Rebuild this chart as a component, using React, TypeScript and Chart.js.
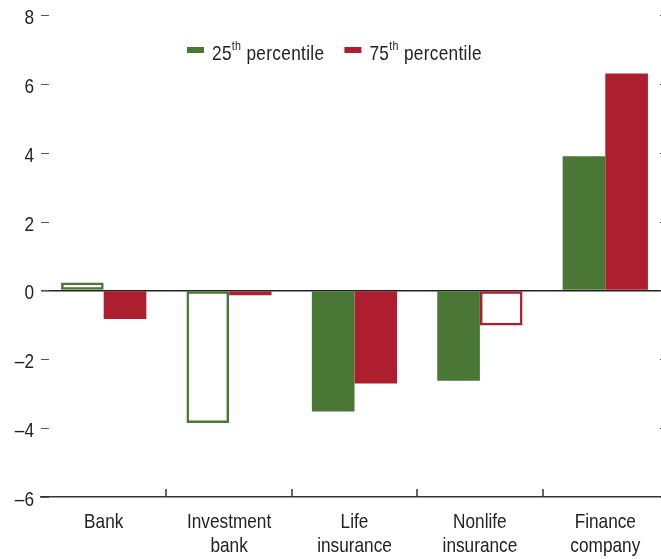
import React, { useEffect, useRef } from "react";
import { Chart, registerables } from "chart.js";
Chart.register(...registerables);

const categories = [["Bank"], ["Investment", "bank"], ["Life", "insurance"], ["Nonlife", "insurance"], ["Finance", "company"]];
const p25 = [0.23, -3.85, -3.52, -2.62, 3.9];
const p75 = [-0.83, -0.15, -2.7, -1.02, 6.3];
const p25Hollow = [true, true, false, false, false];
const p75Hollow = [false, true, false, true, false];
const seriesNames = ["25th percentile", "75th percentile"];
const legendParts = [["25", "th", " percentile"], ["75", "th", " percentile"]];
const yMin = -6;
const yMax = 8;
const yStep = 2;

const GREEN = "#4a7636";
const RED = "#ad1f2e";
const FONT = "'Liberation Sans', Arial, sans-serif";
const SX = 0.82;
const TEXT = "#222";

function drawText(ctx: any, text: string, x: number, y: number, align: string, size: number, spacing = 0) {
  ctx.save();
  ctx.translate(x, y);
  ctx.scale(SX, 1);
  ctx.font = `${size}px ${FONT}`;
  ctx.letterSpacing = `${spacing}px`;
  ctx.textAlign = align;
  ctx.textBaseline = "alphabetic";
  ctx.fillStyle = TEXT;
  ctx.fillText(text, 0, 0);
  ctx.restore();
}

function textWidth(ctx: any, text: string, size: number, spacing = 0) {
  ctx.save();
  ctx.font = `${size}px ${FONT}`;
  ctx.letterSpacing = `${spacing}px`;
  const w = ctx.measureText(text).width * SX;
  ctx.restore();
  return w;
}

const decorPlugin = {
  id: "decor",
  afterDraw(chart: any) {
    const { ctx, chartArea, scales } = chart;
    const y = scales.y;
    const x = scales.x;
    ctx.save();
    ctx.strokeStyle = "#555";
    ctx.lineWidth = 1;
    y.ticks.forEach((t: any, i: number) => {
      const py = Math.round(y.getPixelForTick(i)) + 0.5;
      ctx.beginPath();
      ctx.moveTo(chartArea.left, py);
      ctx.lineTo(chartArea.left + 8, py);
      ctx.moveTo(chartArea.right - 8, py);
      ctx.lineTo(chartArea.right, py);
      ctx.stroke();
      const label = String(t.value).replace("-", "\u2013");
      drawText(ctx, label, chartArea.left - 7, py + 8.5, "right", 21);
    });
    ctx.strokeStyle = "#333";
    ctx.lineWidth = 1.5;
    for (let i = 0; i < categories.length - 1; i++) {
      const px = Math.round((x.getPixelForTick(i) + x.getPixelForTick(i + 1)) / 2);
      ctx.beginPath();
      ctx.moveTo(px, chartArea.bottom);
      ctx.lineTo(px, chartArea.bottom - 8);
      ctx.stroke();
    }
    categories.forEach((lines, i) => {
      const px = x.getPixelForTick(i);
      lines.forEach((line, j) => {
        drawText(ctx, line, px, chartArea.bottom + 31 + j * 24, "center", 21);
      });
    });
    // legend with superscripts
    const colors = [GREEN, RED];
    const LS = 0.4;
    const boxW = 17, boxH = 6, gapBox = 8, gapItem = 20;
    let cx = 179;
    const base = chartArea.top + 45;
    legendParts.forEach((parts, i) => {
      ctx.fillStyle = colors[i];
      ctx.fillRect(cx, base - 13, boxW, boxH);
      cx += boxW + gapBox;
      drawText(ctx, parts[0], cx, base, "left", 21, LS);
      cx += textWidth(ctx, parts[0], 21, LS);
      drawText(ctx, parts[1], cx, base - 10, "left", 13, LS);
      cx += textWidth(ctx, parts[1], 13, LS);
      drawText(ctx, parts[2], cx, base, "left", 21, LS);
      cx += textWidth(ctx, parts[2], 21, LS) + gapItem;
    });
    ctx.restore();
  },
};

export default function App() {
  const ref = useRef<HTMLCanvasElement>(null);
  useEffect(() => {
    const chart = new Chart(ref.current as HTMLCanvasElement, {
      type: "bar",
      data: {
        labels: categories.map((c) => c.join(" ")),
        datasets: [
          {
            label: seriesNames[0],
            data: p25,
            backgroundColor: p25Hollow.map((h) => (h ? "rgba(0,0,0,0)" : GREEN)),
            borderColor: GREEN,
            borderWidth: p25Hollow.map((h) => (h ? 2.5 : 0)),
            borderSkipped: false,
          },
          {
            label: seriesNames[1],
            data: p75,
            backgroundColor: p75Hollow.map((h) => (h ? "rgba(0,0,0,0)" : RED)),
            borderColor: RED,
            borderWidth: p75Hollow.map((h) => (h ? 2.5 : 0)),
            borderSkipped: false,
          },
        ],
      },
      options: {
        animation: false,
        responsive: true,
        maintainAspectRatio: false,
        layout: { padding: { top: 7, right: 0, bottom: 62, left: 0 } },
        datasets: { bar: { barPercentage: 1, categoryPercentage: 0.68 } },
        plugins: { legend: { display: false }, tooltip: { enabled: false } },
        scales: {
          x: {
            afterFit: (scale: any) => { scale.height = 0; },
            grid: { display: false, drawTicks: false },
            border: { display: true, color: "#333", width: 1.5 },
            ticks: { display: false },
          },
          y: {
            min: yMin,
            max: yMax,
            afterFit: (scale: any) => { scale.width = 33; },
            ticks: { stepSize: yStep, display: false },
            grid: {
              drawTicks: false,
              color: (c: any) => (c.tick && c.tick.value === 0 ? "#222" : "rgba(0,0,0,0)"),
              lineWidth: 1.5,
            },
            border: { display: false },
          },
        },
      },
      plugins: [decorPlugin],
    } as any);
    return () => chart.destroy();
  }, []);
  return (
    <div style={{ position: "fixed", left: 0, top: 0, width: 661, height: 559, overflow: "hidden" }}>
      <div style={{ position: "absolute", left: 8, top: 8, width: 660, height: 551 }}>
        <canvas ref={ref} />
      </div>
    </div>
  );
}
